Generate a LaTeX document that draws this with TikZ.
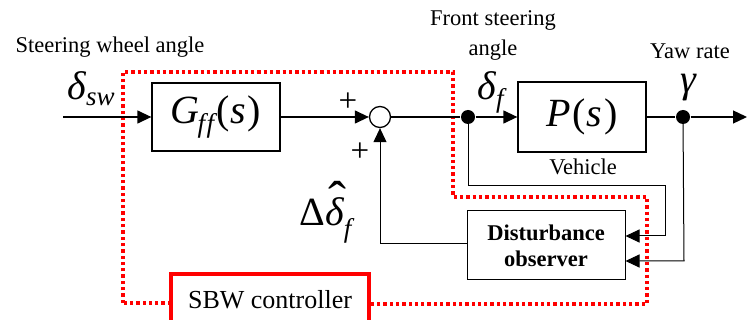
\documentclass[tikz,border=0pt]{standalone}
\usepackage{fontspec}
\usepackage{graphicx}
\setmainfont{Liberation Serif}
\usetikzlibrary{arrows.meta}
\newcommand\sbs[2][-9pt]{\raisebox{#1}{\fontsize{27}{27}\selectfont\itshape #2}}
\newcommand\hatdelta{\ooalign{δ\cr\hidewidth\kern5pt\raisebox{8pt}{\upshape\scalebox{1.35}[1.3]{ˆ}}\hidewidth\cr}}
\begin{document}
\begin{tikzpicture}[x=1pt,y=-1pt, line width=1.3pt,
  arr/.style={-{Triangle[length=14pt,width=13pt]}},
  thin/.style={line width=1pt},
  txt/.style={font=\fontsize{22.5}{30}\selectfont},
  mth/.style={font=\fontsize{40}{42}\selectfont\itshape, inner sep=0},
  pls/.style={font=\fontsize{33}{33}\selectfont, inner sep=0},
  jdot/.style={circle, fill, inner sep=0, minimum size=14pt},
  blk/.style={draw, line width=1.3pt, inner sep=0},
  redline/.style={red, line width=3.3pt, dash pattern=on 3.3pt off 3pt}]
\useasboundingbox (0,0) rectangle (747,320);

% red dotted boundary
\draw[redline] (123,303) -- (123,72) -- (453,72) -- (453,197) -- (647,197) -- (647,304) -- (369,304);
\draw[redline] (171,303) -- (123,303);

% blocks
\node[blk, minimum width=128pt, minimum height=68pt, mth] (G) at (216,117)
  {G\kern-2pt\sbs{f\kern1.5pt f}\kern2pt\upshape(\kern1pt\itshape s\kern2pt\upshape)};
\node[draw, circle, minimum size=21pt, inner sep=0, line width=1.3pt] (S) at (380,117) {};
\node[jdot] (J1) at (468,117) {};
\node[blk, minimum width=128pt, minimum height=70pt, mth] (P) at (582,117)
  {P\kern2pt\upshape(\kern1pt\itshape s\kern2pt\upshape)};
\node[jdot] (J2) at (683,117) {};
\node[blk, thin, minimum width=158pt, minimum height=69pt, align=center,
  font=\fontsize{22.5}{26}\selectfont\bfseries] (D) at (546,245.5) {Disturbance\\observer};
\node[draw=red, line width=3.3pt, fill=white, minimum width=198pt, minimum height=52pt,
  inner sep=0, font=\fontsize{26}{28}\selectfont] (SBW) at (270,300) {SBW controller};

% coordinates
\coordinate (in) at (63,117);
\coordinate (out) at (747,117);
\coordinate (c1) at (665,186);
\coordinate (c2) at (665,236);
\coordinate (c3) at (684,261);

% connectors
\draw[arr] (in) -- (G);
\draw[arr] (G) -- (S);
\draw (S) -- (J1);
\draw[arr] (J1) -- (P);
\draw (P) -- (J2);
\draw[arr] (J2) -- (out);
\draw[arr, thin] (J1.center) |- (c1) -- (c2) -- (D.east |- c2);
\draw[arr, thin] (J2.center) -- (c3) -- (D.east |- c3);
\draw[arr, thin] (D.west |- 0,244) -| (S);

% signs
\node[pls] (p1) at (348,102) {+};
\node[pls] (p2) at (360,152) {+};

% labels
\node[txt] (l1) at (110,47) {Steering wheel angle};
\node[txt, align=center] (l2) at (493,35) {Front steering\\angle};
\node[txt] (l3) at (690,51) {Yaw rate};
\node[txt] (l4) at (583,167) {Vehicle};
\node[mth, anchor=base west] (dsw) at (67,100) {δ\sbs[-6pt]{sw}};
\node[mth, anchor=base west] (df) at (477,100) {δ\sbs[-8pt]{f}};
\node[mth, anchor=base] (gm) at (688,93) {γ};
\node[mth, anchor=base west] (dd) at (299,226) {\upshape Δ\itshape\hatdelta\sbs[-12pt]{f}};
\end{tikzpicture}
\end{document}
